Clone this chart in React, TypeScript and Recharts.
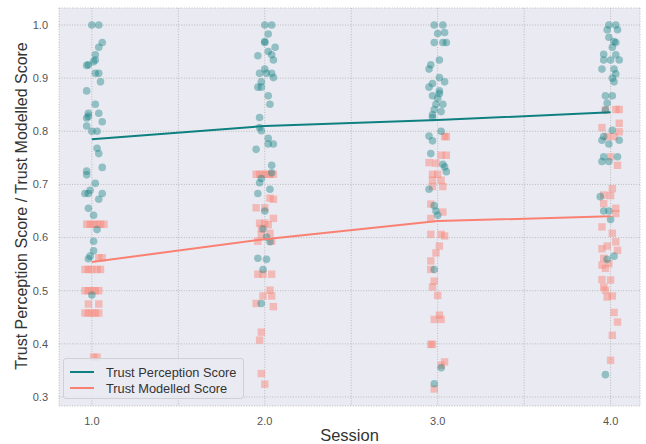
import React from "react";
import { CartesianGrid, Scatter, ScatterChart, XAxis, YAxis } from "recharts";

// session means (line series)
const sessions = [1, 2, 3, 4];
const perceptionMean = [0.785, 0.81, 0.821, 0.836];
const modelledMean = [0.554, 0.597, 0.631, 0.64];

const xTicks = [1, 1.5, 2, 2.5, 3, 3.5, 4];
const yTicks = [0.3, 0.4, 0.5, 0.6, 0.7, 0.8, 0.9, 1.0];

// individual (jittered session, score) points
const perceptionS1: [number, number][] = [
  [1.0, 1.0], [1.04, 1.0], [1.06, 0.967], [1.04, 0.958], [1.02, 0.944], [1.02, 0.934], [1.01, 0.931],
  [0.98, 0.925], [0.97, 0.924], [1.02, 0.909], [1.04, 0.909], [1.05, 0.893], [0.97, 0.876], [1.02, 0.851],
  [0.98, 0.834], [1.04, 0.834], [0.98, 0.828], [0.97, 0.825], [1.06, 0.818], [0.97, 0.81], [1.0, 0.8],
  [1.03, 0.8], [1.03, 0.768], [1.04, 0.758], [1.06, 0.732], [0.97, 0.725], [0.97, 0.718], [1.02, 0.702],
  [0.99, 0.689], [0.96, 0.683], [0.98, 0.683], [1.06, 0.683], [1.04, 0.672], [0.98, 0.655], [1.01, 0.642],
  [1.03, 0.615], [1.01, 0.593], [1.01, 0.575], [0.99, 0.565], [0.98, 0.56], [1.0, 0.492],
];
const perceptionS2: [number, number][] = [
  [2.0, 1.0], [2.04, 1.0], [2.02, 0.983], [2.0, 0.969], [2.0, 0.967], [2.06, 0.958], [1.96, 0.942],
  [2.02, 0.95], [2.04, 0.944], [2.05, 0.934], [2.0, 0.917], [1.97, 0.909], [2.01, 0.909], [2.04, 0.909],
  [2.05, 0.901], [1.98, 0.893], [1.96, 0.883], [1.98, 0.883], [2.02, 0.867], [2.03, 0.851], [1.97, 0.826],
  [1.97, 0.807], [1.98, 0.801], [2.02, 0.787], [2.02, 0.776], [2.05, 0.776], [1.95, 0.766], [2.04, 0.736],
  [2.04, 0.722], [1.98, 0.711], [1.97, 0.703], [1.96, 0.683], [2.03, 0.691], [2.0, 0.65], [1.99, 0.616],
  [2.01, 0.601], [2.03, 0.592], [1.96, 0.561], [2.01, 0.559], [1.99, 0.54], [1.98, 0.476],
];
const perceptionS3: [number, number][] = [
  [2.98, 1.0], [3.03, 1.0], [3.0, 0.984], [3.04, 0.986], [2.98, 0.967], [3.03, 0.967], [3.05, 0.967],
  [3.01, 0.934], [2.96, 0.925], [2.95, 0.917], [3.01, 0.901], [2.97, 0.89], [3.04, 0.893], [2.95, 0.883],
  [3.01, 0.876], [3.01, 0.871], [2.97, 0.867], [3.0, 0.862], [3.03, 0.851], [2.99, 0.851], [2.98, 0.841],
  [3.02, 0.837], [2.97, 0.831], [2.97, 0.826], [3.02, 0.8], [2.95, 0.791], [2.97, 0.782], [2.96, 0.758],
  [3.03, 0.738], [3.04, 0.733], [3.05, 0.724], [2.95, 0.691], [2.98, 0.66], [2.99, 0.65], [3.0, 0.642],
  [2.98, 0.54], [3.02, 0.355], [2.98, 0.325],
];
const perceptionS4: [number, number][] = [
  [3.99, 1.0], [4.03, 1.0], [3.98, 0.991], [4.04, 0.991], [3.99, 0.977], [4.02, 0.969], [4.03, 0.967],
  [4.01, 0.958], [3.96, 0.945], [4.03, 0.944], [3.96, 0.934], [4.0, 0.934], [4.05, 0.934], [3.95, 0.917],
  [4.02, 0.917], [4.03, 0.908], [4.01, 0.9], [4.02, 0.893], [3.97, 0.867], [4.01, 0.867], [3.98, 0.853],
  [3.97, 0.84], [4.01, 0.802], [3.96, 0.79], [3.99, 0.776], [4.05, 0.783], [3.95, 0.783], [3.96, 0.752],
  [3.99, 0.743], [4.04, 0.752], [3.95, 0.743], [3.94, 0.677], [3.96, 0.65], [3.99, 0.65], [4.0, 0.634],
  [4.02, 0.565], [3.98, 0.559], [3.97, 0.342],
];

const modelledS1: [number, number][] = [
  [0.97, 0.625], [0.99, 0.625], [1.01, 0.625], [1.03, 0.625], [1.05, 0.625], [1.07, 0.625],
  [1.04, 0.562], [1.06, 0.562],
  [0.96, 0.54], [0.98, 0.54], [1.0, 0.54], [1.03, 0.54], [1.05, 0.54],
  [0.96, 0.5], [0.98, 0.5], [1.0, 0.5], [1.02, 0.5], [1.04, 0.5],
  [0.98, 0.475], [1.04, 0.475],
  [0.96, 0.458], [0.98, 0.458], [1.0, 0.458], [1.02, 0.458], [1.04, 0.458],
  [1.01, 0.375], [1.03, 0.375],
];
const modelledS2: [number, number][] = [
  [1.95, 0.719], [1.97, 0.719], [1.99, 0.719], [2.01, 0.719], [2.03, 0.719], [2.05, 0.719],
  [2.03, 0.674], [2.05, 0.672], [1.95, 0.656], [2.0, 0.656], [2.05, 0.636], [1.97, 0.627], [2.0, 0.627],
  [2.02, 0.624], [1.98, 0.617], [2.03, 0.608], [1.98, 0.605], [1.96, 0.593], [2.04, 0.593], [1.96, 0.531],
  [1.99, 0.531], [2.04, 0.531], [2.03, 0.501], [1.99, 0.49], [2.04, 0.49], [1.95, 0.476], [2.05, 0.47],
  [1.98, 0.422], [1.97, 0.407], [1.98, 0.344], [2.0, 0.324],
];
const modelledS3: [number, number][] = [
  [3.04, 0.79], [3.05, 0.79], [3.02, 0.755], [3.05, 0.755], [2.95, 0.741], [2.99, 0.74], [2.97, 0.719],
  [3.0, 0.719], [2.97, 0.708], [3.02, 0.708], [2.97, 0.696], [3.03, 0.696], [2.96, 0.663], [3.03, 0.648],
  [2.96, 0.636], [2.96, 0.606], [3.02, 0.606], [3.04, 0.603], [3.01, 0.584], [2.99, 0.571], [2.96, 0.556],
  [2.96, 0.54], [2.98, 0.518], [2.97, 0.507], [3.0, 0.491], [3.01, 0.454], [2.98, 0.446], [3.02, 0.446],
  [2.96, 0.399], [2.97, 0.399], [3.04, 0.366], [3.02, 0.36], [2.98, 0.315],
];
const modelledS4: [number, number][] = [
  [4.03, 0.841], [4.05, 0.841], [3.97, 0.84], [4.05, 0.815], [3.95, 0.807], [4.02, 0.79], [3.98, 0.79],
  [4.05, 0.799], [4.0, 0.752], [4.04, 0.736], [4.01, 0.692], [3.96, 0.68], [4.0, 0.679], [3.96, 0.664],
  [4.03, 0.655], [4.03, 0.645], [3.95, 0.62], [4.01, 0.608], [4.03, 0.592], [3.98, 0.584], [3.95, 0.579],
  [4.04, 0.576], [3.96, 0.561], [3.99, 0.551], [3.95, 0.548], [3.97, 0.542], [3.95, 0.521], [4.0, 0.52],
  [3.96, 0.507], [3.97, 0.501], [3.98, 0.488], [4.01, 0.49], [4.02, 0.459], [4.04, 0.441], [4.01, 0.416],
  [4.0, 0.369],
];

const TEAL = "#0f8080";
const SALMON = "#fa8072";

const toRows = (pts: [number, number][]) => pts.map(([x, y]) => ({ x, y }));
const perceptionPts = toRows([...perceptionS1, ...perceptionS2, ...perceptionS3, ...perceptionS4]);
const modelledPts = toRows([...modelledS1, ...modelledS2, ...modelledS3, ...modelledS4]);
const perceptionLine = sessions.map((s, i) => ({ x: s, y: perceptionMean[i] }));
const modelledLine = sessions.map((s, i) => ({ x: s, y: modelledMean[i] }));

const Dot = (p: any) => <circle cx={p.cx} cy={p.cy} r={3.8} fill={TEAL} fillOpacity={0.4} />;
const Square = (p: any) => <rect x={p.cx - 3.7} y={p.cy - 3.7} width={7.4} height={7.4} fill={SALMON} fillOpacity={0.45} />;
const NoShape = () => <g />;

const font = '"Liberation Sans", Arial, sans-serif';

export default function App() {
  return (
    <div style={{ position: "absolute", left: 0, top: 0, width: 646, height: 444, background: "#fff", fontFamily: font }}>
      <ScatterChart width={646} height={444} margin={{ top: 8, right: 6, bottom: 8, left: 0 }}>
        <CartesianGrid fill="#eaeaf2" stroke="#b5b5b5" strokeDasharray="1 1.6" strokeWidth={0.9} />
        <XAxis
          type="number"
          dataKey="x"
          domain={[0.81, 4.17]}
          ticks={xTicks}
          allowDataOverflow
          height={30}
          tickFormatter={(v: number) => (Number.isInteger(v) ? v.toFixed(1) : "")}
          tick={{ fontSize: 11, fill: "#555", fontFamily: font }}
          axisLine={false}
          tickLine={false}
          tickMargin={5}
        />
        <YAxis
          type="number"
          dataKey="y"
          domain={[0.283, 1.032]}
          ticks={yTicks}
          allowDataOverflow
          width={59}
          tickFormatter={(v: number) => v.toFixed(1)}
          tick={{ fontSize: 11, fill: "#555", fontFamily: font }}
          axisLine={false}
          tickLine={false}
          tickMargin={5}
        />
        <Scatter data={modelledPts} shape={Square} isAnimationActive={false} />
        <Scatter data={perceptionPts} shape={Dot} isAnimationActive={false} />
        <Scatter data={perceptionLine} shape={NoShape} line={{ stroke: TEAL, strokeWidth: 2 }} isAnimationActive={false} />
        <Scatter data={modelledLine} shape={NoShape} line={{ stroke: SALMON, strokeWidth: 2 }} isAnimationActive={false} />
      </ScatterChart>

      {/* axis titles */}
      <div style={{ position: "absolute", left: 0, width: 646, top: 425, textAlign: "center", paddingLeft: 53, boxSizing: "border-box", fontSize: 16.5, color: "#333", lineHeight: "20px" }}>
        Session
      </div>
      <div
        style={{
          position: "absolute",
          left: 22,
          top: 206,
          transform: "translate(-50%, -50%) rotate(-90deg)",
          whiteSpace: "nowrap",
          fontSize: 16,
          color: "#333",
          lineHeight: "20px",
        }}
      >
        Trust Perception Score / Trust Modelled Score
      </div>

      {/* legend */}
      <div
        style={{
          position: "absolute",
          left: 63,
          top: 358,
          width: 181,
          height: 41,
          boxSizing: "border-box",
          border: "1px solid #d0d0d6",
          borderRadius: 3,
          background: "rgba(234,234,242,0.85)",
          fontSize: 12.8,
          color: "#333",
        }}
      >
        {[
          { label: "Trust Perception Score", color: TEAL },
          { label: "Trust Modelled Score", color: SALMON },
        ].map((e, i) => (
          <div key={e.label} style={{ position: "absolute", left: 5, top: 6 + i * 16, height: 14, display: "flex", alignItems: "center" }}>
            <svg width={26} height={14}>
              <line x1={1} x2={25} y1={7} y2={7} stroke={e.color} strokeWidth={2} />
            </svg>
            <span style={{ marginLeft: 11, whiteSpace: "nowrap" }}>{e.label}</span>
          </div>
        ))}
      </div>
    </div>
  );
}
